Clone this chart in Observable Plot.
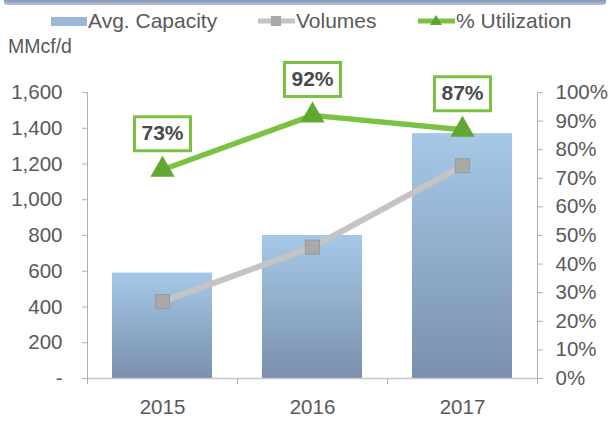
<!DOCTYPE html>
<html>
<head>
<meta charset="utf-8">
<script src="https://cdn.jsdelivr.net/npm/d3@7"></script>
<script src="https://cdn.jsdelivr.net/npm/@observablehq/plot@0.6"></script>
<style>
  body { margin: 0; background: #fff; font-family: "Liberation Sans", Arial, sans-serif; color: #595959; }
  #wrap { width: 610px; position: relative; }
  #topbar { height: 5px; margin: 0 4px; background: linear-gradient(#8497b8, #b4c2d8); border-radius: 0 0 3px 3px; }
  #legend { height: 30px; position: relative; font-size: 21px; }
  .item { position: absolute; top: 3px; display: flex; align-items: center; height: 26px; }
  .item svg { margin-right: 1px; }
  #unit { height: 23px; font-size: 19.5px; padding-left: 8px; line-height: 23px; }
</style>
</head>
<body>
<div id="wrap">
  <div id="topbar"></div>
  <div id="legend"></div>
  <div id="unit">MMcf/d</div>
  <div id="chart"></div>
</div>
<script>
const years = ["2015", "2016", "2017"];
const capacity = [590, 800, 1370];
const volumes = [430, 735, 1190];
const utilization = [73, 92, 87];
const utilLabels = ["73%", "92%", "87%"];
const leftTicks = [0, 200, 400, 600, 800, 1000, 1200, 1400, 1600];
const rightTicks = [0, 10, 20, 30, 40, 50, 60, 70, 80, 90, 100];
const seriesNames = ["Avg. Capacity", "Volumes", "% Utilization"];

const yMax = 1600;
const rows = years.map((y, i) => ({
  year: y, capacity: capacity[i], volumes: volumes[i],
  util: utilization[i] / 100 * yMax, label: utilLabels[i]
}));

// legend
const legend = document.getElementById("legend");
const sw = [
  `<svg width="36" height="12"><rect x="0" y="2" width="36" height="9" fill="#9bb6d6"/></svg>`,
  `<svg width="37" height="14"><line x1="0" x2="37" y1="7" y2="7" stroke="#c4c4c4" stroke-width="5"/><rect x="13" y="2" width="10" height="10" fill="#a8a8a8"/></svg>`,
  `<svg width="37" height="14"><line x1="0" x2="37" y1="7" y2="7" stroke="#7cc242" stroke-width="5"/><path d="M18,1 L24,11 L12,11 Z" fill="#5fa32e"/></svg>`
];
const lefts = [51, 258, 418];
seriesNames.forEach((n, i) => {
  const d = document.createElement("div");
  d.className = "item";
  d.style.left = lefts[i] + "px";
  d.innerHTML = sw[i] + `<span>${n}</span>`;
  legend.appendChild(d);
});

const boxSymbol = { draw(ctx) { ctx.rect(-28, -17, 56, 34); } };

const defs = () => {
  const s = d3.create("svg:defs");
  const g = s.append("linearGradient").attr("id", "capGrad").attr("x1", 0).attr("y1", 0).attr("x2", 0).attr("y2", 1);
  g.append("stop").attr("offset", "0%").attr("stop-color", "#a6c8e7");
  g.append("stop").attr("offset", "100%").attr("stop-color", "#7a90ae");
  return s.node();
};

const chart = Plot.plot({
  width: 610,
  height: 364,
  marginTop: 34,
  marginBottom: 44,
  marginLeft: 87,
  marginRight: 73,
  style: { fontFamily: "Liberation Sans, Arial, sans-serif", fontSize: "20.5px", color: "#595959", overflow: "visible" },
  x: { domain: years, paddingInner: 1/3, paddingOuter: 1/6, label: null },
  y: { domain: [0, yMax], label: null },
  marks: [
    defs,
    Plot.barY(rows, { x: "year", y: "capacity", fill: "url(#capGrad)" }),
    Plot.ruleY([0], { stroke: "#c8c8c8", strokeWidth: 1.5 }),
    Plot.frame({ anchor: "left", stroke: "#b0b0b0" }),
    Plot.frame({ anchor: "right", stroke: "#b0b0b0" }),
    Plot.axisY({ ticks: leftTicks, tickSize: 5, tickPadding: 20, stroke: "#b0b0b0", fill: "#595959",
      tickFormat: d => d === 0 ? "-" : d3.format(",")(d), label: null }),
    Plot.axisY({ anchor: "right", ticks: rightTicks.map(p => p / 100 * yMax), tickSize: 5, tickPadding: 13,
      stroke: "#b0b0b0", fill: "#595959", tickFormat: d => Math.round(d / yMax * 100) + "%", label: null }),
    Plot.axisX({ tickSize: 0, tickPadding: 21, fill: "#595959", label: null }),
    Plot.axisX({ text: null, tickSize: 6, dx: -75, stroke: "#b0b0b0", label: null }),
    Plot.axisX({ ticks: [years[years.length - 1]], text: null, tickSize: 6, dx: 75, stroke: "#b0b0b0", label: null }),
    Plot.lineY(rows, { x: "year", y: "volumes", stroke: "#c4c4c4", strokeWidth: 6 }),
    Plot.dot(rows, { x: "year", y: "volumes", symbol: "square", r: 8, fill: "#a9a9a9", stroke: "#9a9a9a", strokeWidth: 1 }),
    Plot.lineY(rows, { x: "year", y: "util", stroke: "#7cc242", strokeWidth: 5.5 }),
    Plot.dot(rows, { x: "year", y: "util", symbol: "triangle", r: 9, fill: "#62a731" }),
    Plot.dot(rows, { x: "year", y: "util", symbol: boxSymbol, r: 5, fill: "white", stroke: "#7cc242", strokeWidth: 3, dy: -36 }),
    Plot.text(rows, { x: "year", y: "util", text: "label", dy: -36, fontWeight: "bold", fontSize: 21, fill: "#4a4a4a" })
  ]
});
document.getElementById("chart").appendChild(chart);
</script>
</body>
</html>
